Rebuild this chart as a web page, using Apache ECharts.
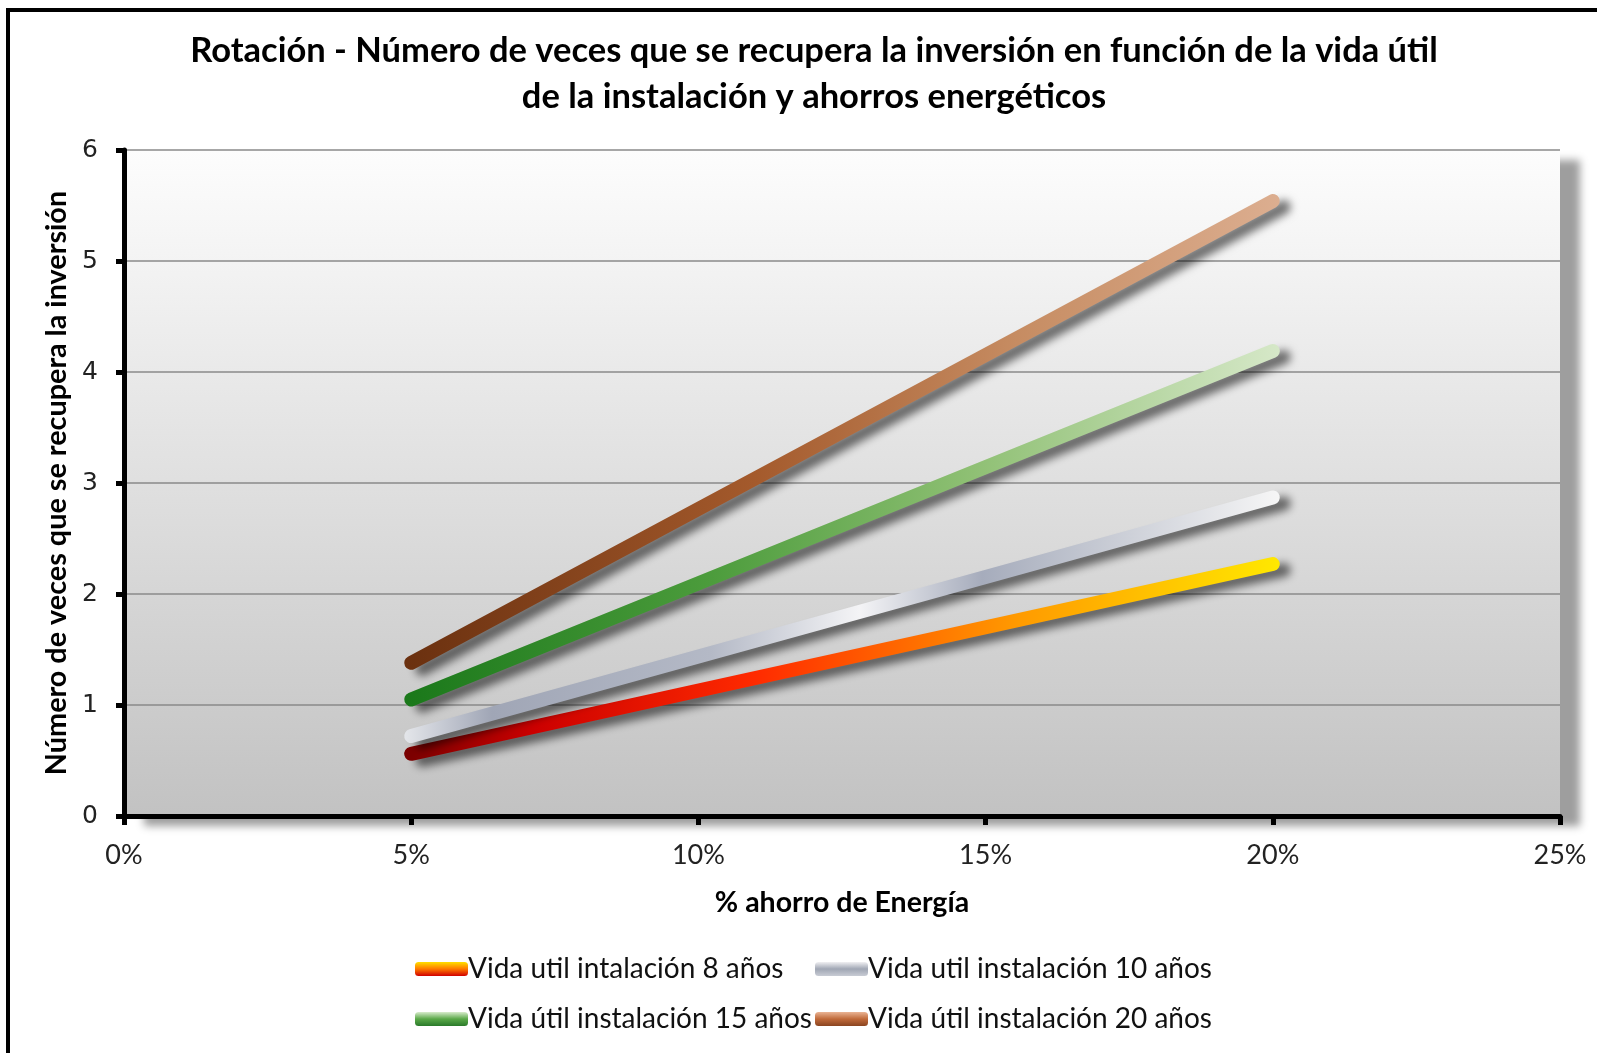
<!DOCTYPE html>
<html>
<head>
<meta charset="utf-8">
<script src="https://cdn.jsdelivr.net/npm/echarts@6/dist/echarts.min.js"></script>
<style>
  html, body { margin: 0; padding: 0; background: #fff; }
  #chart { width: 1597px; height: 1053px; }
</style>
</head>
<body>
<div id="chart"></div>
<script>
// datos
var ahorro = [0.05, 0.20]
var vida8 = [0.56, 2.27]
var vida10 = [0.72, 2.87]
var vida15 = [1.05, 4.19]
var vida20 = [1.38, 5.54]
var nombres = [
  'Vida util intalación 8 años',
  'Vida util instalación 10 años',
  'Vida útil instalación 15 años',
  'Vida útil instalación 20 años'
]

var G = echarts.graphic.LinearGradient
function grad (x2, y2, stops) {
  return new G(0, 0, x2, y2, stops.map(function (c) {
    return { offset: c[0], color: c[1] }
  }))
}

// colores de las lineas (horizontal) y de la leyenda (vertical)
var lineColors = [
  grad(1, 0, [[0, '#780000'], [0.15, '#cc0000'], [0.4, '#ff2a00'], [0.7, '#ff9a00'], [1, '#ffe800']]),
  grad(1, 0, [[0, '#e4e6ea'], [0.1, '#a0a6b6'], [0.35, '#b4b9c6'], [0.52, '#f4f4f6'], [0.66, '#a6acbc'], [1, '#f6f6f6']]),
  grad(1, 0, [[0, '#1a781a'], [0.35, '#4c9c3c'], [0.65, '#8fc074'], [1, '#d6e8c8']]),
  grad(1, 0, [[0, '#6a300f'], [0.4, '#a45a2c'], [0.7, '#c68c62'], [1, '#dcae90']])
]
var legendColors = [
  grad(0, 1, [[0, '#ffe000'], [0.5, '#ff7800'], [1, '#d00000']]),
  grad(0, 1, [[0, '#f0f0f2'], [0.5, '#a0a6b4'], [1, '#c8ccd4']]),
  grad(0, 1, [[0, '#d8eccc'], [0.5, '#5aa848'], [1, '#2a7a2a']]),
  grad(0, 1, [[0, '#eab494'], [0.5, '#c06a3a'], [1, '#8a4420']])
]

var valores = [vida8, vida10, vida15, vida20]

var myChart = echarts.init(document.getElementById('chart'))

var series = valores.map(function (v, i) {
  return {
    name: nombres[i],
    type: 'line',
    symbol: 'none',
    data: ahorro.map(function (x, j) { return [x, v[j]] }),
    itemStyle: { color: legendColors[i] },
    lineStyle: {
      color: lineColors[i],
      width: 14,
      cap: 'round',
      shadowColor: 'rgba(0,0,0,0.55)',
      shadowBlur: 8,
      shadowOffsetX: 11,
      shadowOffsetY: 6
    },
    z: 3 + i
  }
})

function legendData (idx) {
  return idx.map(function (i) {
    return { name: nombres[i], itemStyle: { color: legendColors[i] } }
  })
}

var legendBase = {
  orient: 'vertical',
  top: 950,
  itemGap: 22,
  itemWidth: 53,
  itemHeight: 14,
  icon: 'roundRect',
  selectedMode: false,
  textStyle: {
    fontFamily: 'Lato',
    fontSize: 28,
    color: '#111',
    padding: [0, 0, 0, -5]
  }
}

myChart.setOption({
  animation: false,
  title: {
    text: 'Rotación - Número de veces que se recupera la inversión en función de la vida útil\nde la instalación y ahorros energéticos',
    left: 809,
    top: 23,
    textAlign: 'center',
    textStyle: {
      fontFamily: 'Lato',
      fontWeight: 'bold',
      fontSize: 34.5,
      lineHeight: 46,
      color: '#000'
    }
  },
  legend: [
    Object.assign({}, legendBase, { left: 410, data: legendData([0, 2]) }),
    Object.assign({}, legendBase, { left: 810, data: legendData([1, 3]) })
  ],
  grid: {
    left: 124,
    right: 37,
    top: 150,
    bottom: 237,
    show: true,
    borderWidth: 0,
    backgroundColor: grad(0, 1, [[0, '#fdfdfd'], [1, '#c2c2c2']]),
    shadowColor: 'rgba(0,0,0,0.38)',
    shadowBlur: 8,
    shadowOffsetX: 20,
    shadowOffsetY: 10
  },
  xAxis: {
    type: 'value',
    min: 0,
    max: 0.25,
    interval: 0.05,
    name: '% ahorro de Energía',
    nameLocation: 'middle',
    nameGap: 72,
    nameTextStyle: {
      fontFamily: 'Lato',
      fontWeight: 'bold',
      fontSize: 28.5,
      color: '#000'
    },
    axisLine: { lineStyle: { color: '#000', width: 5 } },
    axisTick: { show: true, length: 9, lineStyle: { color: '#000', width: 5 } },
    splitLine: { show: false },
    axisLabel: {
      margin: 26,
      fontFamily: 'Lato',
      fontSize: 27,
      color: '#222',
      formatter: function (v) { return Math.round(v * 100) + '%' }
    }
  },
  yAxis: {
    type: 'value',
    min: 0,
    max: 6,
    interval: 1,
    name: 'Número de veces que se recupera la inversión',
    nameLocation: 'middle',
    nameGap: 53,
    nameTextStyle: {
      fontFamily: 'Lato',
      fontWeight: 'bold',
      fontSize: 28.8,
      color: '#000'
    },
    axisLine: { show: true, lineStyle: { color: '#000', width: 5 } },
    axisTick: { show: true, length: 8, lineStyle: { color: '#000', width: 5 } },
    splitLine: { show: true, lineStyle: { color: '#8a8a8a', width: 1.5 } },
    axisLabel: {
      margin: 26,
      fontFamily: 'DejaVu Sans',
      fontSize: 25,
      color: '#222'
    }
  },
  graphic: [{
    type: 'rect',
    shape: { x: 8, y: 10, width: 1700, height: 1200 },
    style: { fill: 'none', stroke: '#000', lineWidth: 4 },
    silent: true
  }],
  series: series
})
</script>
</body>
</html>
